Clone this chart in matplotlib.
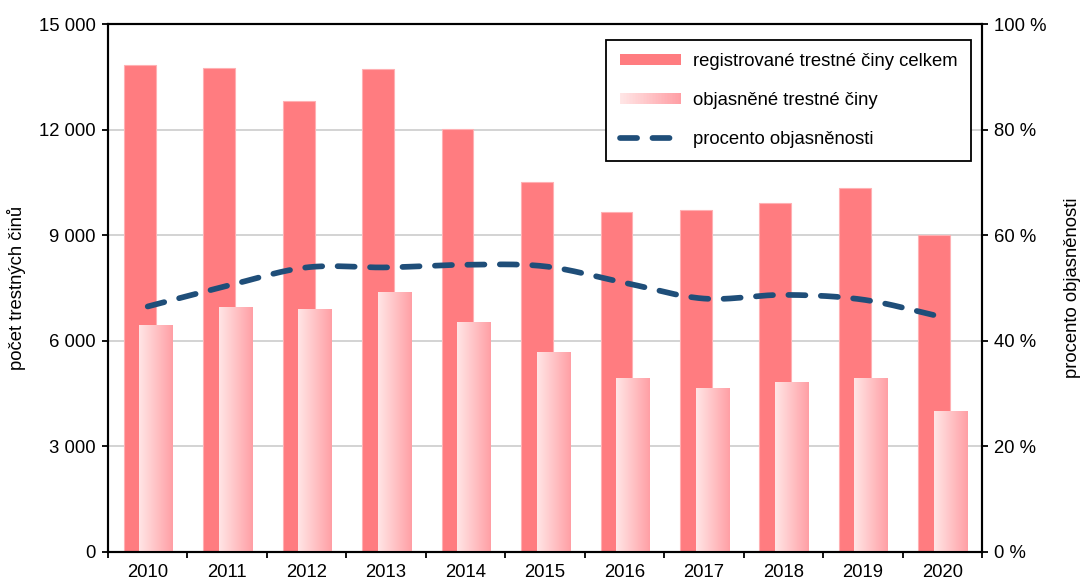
import numpy as np
import matplotlib
matplotlib.use("Agg")
import matplotlib.pyplot as plt
from matplotlib.patches import Rectangle
from matplotlib.legend_handler import HandlerBase
from matplotlib.colors import LinearSegmentedColormap
from matplotlib.ticker import FuncFormatter, FixedLocator

plt.rcParams['font.family'] = ['Liberation Sans', 'DejaVu Sans']

years = ['2010', '2011', '2012', '2013', '2014', '2015', '2016', '2017', '2018', '2019', '2020']
registered = [13840, 13750, 12810, 13710, 12010, 10510, 9660, 9720, 9915, 10340, 9005]
solved = [6450, 6950, 6900, 7385, 6535, 5680, 4945, 4660, 4830, 4945, 4005]
percent = [46.5, 50.4, 53.9, 53.9, 54.4, 54.1, 51.0, 48.0, 48.7, 47.8, 44.5]

RED = '#FF7C80'
LINE = '#1F4E79'
grad = LinearSegmentedColormap.from_list('g', ['#FFE6E6', '#FF9FA5'])

fig = plt.figure(figsize=(10.83, 5.83), dpi=100)
ax = fig.add_axes([0.0997, 0.0532, 0.8070, 0.9056])
ax2 = ax.twinx()

x = np.arange(len(years))
ax.set_zorder(1)
ax2.set_zorder(2)
ax2.patch.set_visible(False)

ax.set_ylim(0, 15000)
ax.set_xlim(-0.5, len(years) - 0.5)
ax.yaxis.set_major_locator(FixedLocator(np.arange(0, 15001, 3000)))
ax.grid(axis='y', color='#C8C8C8', linewidth=1.1, zorder=0)
ax.set_axisbelow(True)

ax.bar(x - 0.1, registered, width=0.40, color=RED, edgecolor='#FFB0B3',
       linewidth=0.8, zorder=2)
pink = ax.bar(x + 0.105, solved, width=0.42, color='none', edgecolor='none', zorder=3)
gimg = np.linspace(0, 1, 256).reshape(1, -1)
for b in pink:
    bx, by = b.get_x(), b.get_y()
    w, h = b.get_width(), b.get_height()
    im = ax.imshow(gimg, cmap=grad, aspect='auto', extent=[bx, bx + w, by, by + h],
                   zorder=3, interpolation='bilinear')
    im.set_clip_path(b)
ax.set_xlim(-0.5, len(years) - 0.5)
ax.set_ylim(0, 15000)


def catmull(xs, ys, n=30):
    xs = np.asarray(xs, float)
    ys = np.asarray(ys, float)
    P = np.column_stack([xs, ys])
    P = np.vstack([P[0] - (P[1] - P[0]), P, P[-1] + (P[-1] - P[-2])])
    out = []
    for i in range(1, len(P) - 2):
        p0, p1, p2, p3 = P[i - 1], P[i], P[i + 1], P[i + 2]
        t = np.linspace(0, 1, n, endpoint=(i == len(P) - 3))[:, None]
        pts = 0.5 * ((2 * p1) + (-p0 + p2) * t + (2 * p0 - 5 * p1 + 4 * p2 - p3) * t ** 2
                     + (-p0 + 3 * p1 - 3 * p2 + p3) * t ** 3)
        out.append(pts)
    out = np.vstack(out)
    return out[:, 0], out[:, 1]


sx, sy = catmull(x, percent)
ln, = ax2.plot(sx, sy, color=LINE, linewidth=4.1, dash_capstyle='round',
               solid_capstyle='round', zorder=4)
ln.set_dashes((3.0, 2.7))
ax2.set_ylim(0, 100)
ax2.yaxis.set_major_locator(FixedLocator(np.arange(0, 101, 20)))
ax2.yaxis.set_major_formatter(FuncFormatter(lambda v, p: f'{int(v)} %'))

ax.yaxis.set_major_formatter(FuncFormatter(lambda v, p: f'{int(v):,}'.replace(',', ' ')))

ax.set_xticks(x)
ax.set_xticklabels(years)
ax.set_xticks(np.arange(-0.5, len(years)), minor=True)
ax.tick_params(axis='x', which='major', length=0, pad=9, labelsize=13.3)
ax.tick_params(axis='x', which='minor', length=4, width=1.3, direction='out')
ax.tick_params(axis='y', length=4, width=1.3, direction='out', pad=5, labelsize=13.3)
ax2.tick_params(axis='y', length=4, width=1.3, direction='out', pad=5, labelsize=13.3)

for a in (ax, ax2):
    for s in a.spines.values():
        s.set_linewidth(1.5)
        s.set_color('black')

ax.set_ylabel('počet trestných činů', fontsize=13.3, labelpad=9)
ax2.set_ylabel('procento objasněnosti', fontsize=13.3, labelpad=12.5)


class GradientHandler(HandlerBase):
    def create_artists(self, legend, orig_handle, xdescent, ydescent, width, height,
                       fontsize, trans):
        n = 40
        arts = []
        for i in range(n):
            r = Rectangle((-xdescent + i * width / n, -ydescent), width / n * 1.05, height,
                          facecolor=grad(i / (n - 1)), edgecolor='none', transform=trans)
            arts.append(r)
        return arts


red_proxy = Rectangle((0, 0), 1, 1, facecolor=RED, edgecolor='none')
pink_proxy = Rectangle((0, 0), 1, 1, facecolor='#FFC0C0', edgecolor='none')
leg = ax2.legend([red_proxy, pink_proxy, ln],
                 ['registrované trestné činy celkem', 'objasněné trestné činy',
                  'procento objasněnosti'],
                 handler_map={pink_proxy: GradientHandler()},
                 loc='upper right', bbox_to_anchor=(0.987, 0.97), borderaxespad=0,
                 fontsize=13.3, frameon=True, fancybox=False, shadow=False,
                 edgecolor='black', framealpha=1, handlelength=3.3, handleheight=0.55,
                 handletextpad=0.65, labelspacing=1.18, borderpad=0.72)
leg.get_frame().set_linewidth(1.3)

fig.savefig('out.png', dpi=100)
